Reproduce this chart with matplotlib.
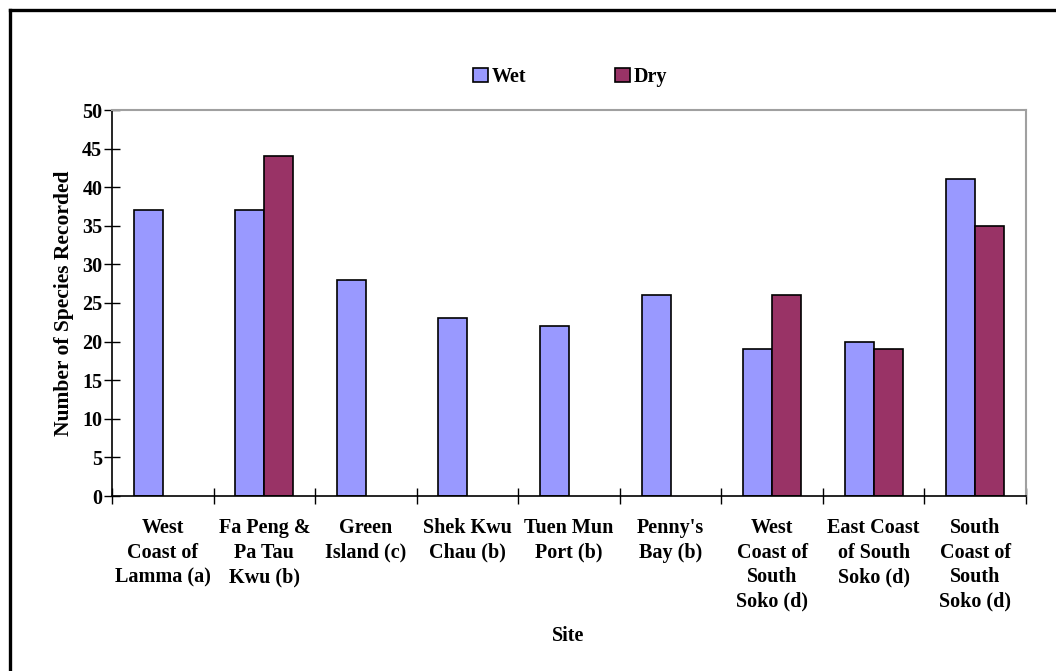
import matplotlib
matplotlib.use("Agg")
import matplotlib.pyplot as plt
from matplotlib.lines import Line2D
import numpy as np

# species counts per site, wet and dry season
sites = ["West\nCoast of\nLamma (a)", "Fa Peng &\nPa Tau\nKwu (b)", "Green\nIsland (c)",
         "Shek Kwu\nChau (b)", "Tuen Mun\nPort (b)", "Penny's\nBay (b)",
         "West\nCoast of\nSouth\nSoko (d)", "East Coast\nof South\nSoko (d)",
         "South\nCoast of\nSouth\nSoko (d)"]
wet = [37, 37, 28, 23, 22, 26, 19, 20, 41]
dry = [np.nan, 44, np.nan, np.nan, np.nan, np.nan, 26, 19, 35]

plt.rcParams['font.family'] = ['Liberation Serif', 'DejaVu Serif']
plt.rcParams['font.weight'] = 'bold'
FS = 14.5

W, H = 1056, 671
fig = plt.figure(figsize=(W / 100, H / 100), dpi=100)
ax = fig.add_axes([112 / W, 1 - 496 / H, (1026 - 112) / W, (496 - 110) / H])

x = np.arange(len(sites))
bw = 1 / 3.5
ax.bar(x - bw / 2, wet, bw, color='#9999FF', edgecolor='black', linewidth=1.2, label='Wet')
ax.bar(x + bw / 2, dry, bw, color='#993366', edgecolor='black', linewidth=1.2, label='Dry')

ax.set_xlim(-0.5, len(sites) - 0.5)
ax.set_ylim(0, 50)
ax.set_yticks(range(0, 51, 5))
ax.set_xticks(np.arange(len(sites) + 1) - 0.5)
ax.set_xticklabels([])
for i, s in enumerate(sites):
    ax.text(i, -2.85, s, ha='center', va='top', fontsize=FS, fontweight='bold',
            linespacing=1.3)

ax.tick_params(axis='y', direction='inout', length=12, width=1, labelsize=FS, pad=1)
ax.tick_params(axis='x', direction='inout', length=12, width=1)
for lab in ax.get_yticklabels():
    lab.set_fontweight('bold')

for side in ['top', 'right']:
    ax.spines[side].set_color('#a0a0a0')
    ax.spines[side].set_linewidth(1.5)
for side in ['left', 'bottom']:
    ax.spines[side].set_color('black')
    ax.spines[side].set_linewidth(1.2)

ax.set_ylabel('Number of Species Recorded', fontsize=15.5, fontweight='bold', labelpad=6)
fig.text(568 / W, 1 - 636 / H, 'Site', ha='center', va='center', fontsize=FS, fontweight='bold')

fig.legend(loc='center', bbox_to_anchor=(570 / W, 1 - 77 / H), ncol=2, frameon=False,
           handlelength=0.75, handleheight=0.75, handletextpad=0.2,
           columnspacing=4.4, prop={'weight': 'bold', 'size': FS})

# outer frame
fig.add_artist(Line2D([10 / W, 1], [1 - 10 / H, 1 - 10 / H], color='black', linewidth=2.4,
                      transform=fig.transFigure))
fig.add_artist(Line2D([10 / W, 10 / W], [0, 1 - 10 / H], color='black', linewidth=2.4,
                      transform=fig.transFigure))

fig.savefig('out.png', dpi=100)
